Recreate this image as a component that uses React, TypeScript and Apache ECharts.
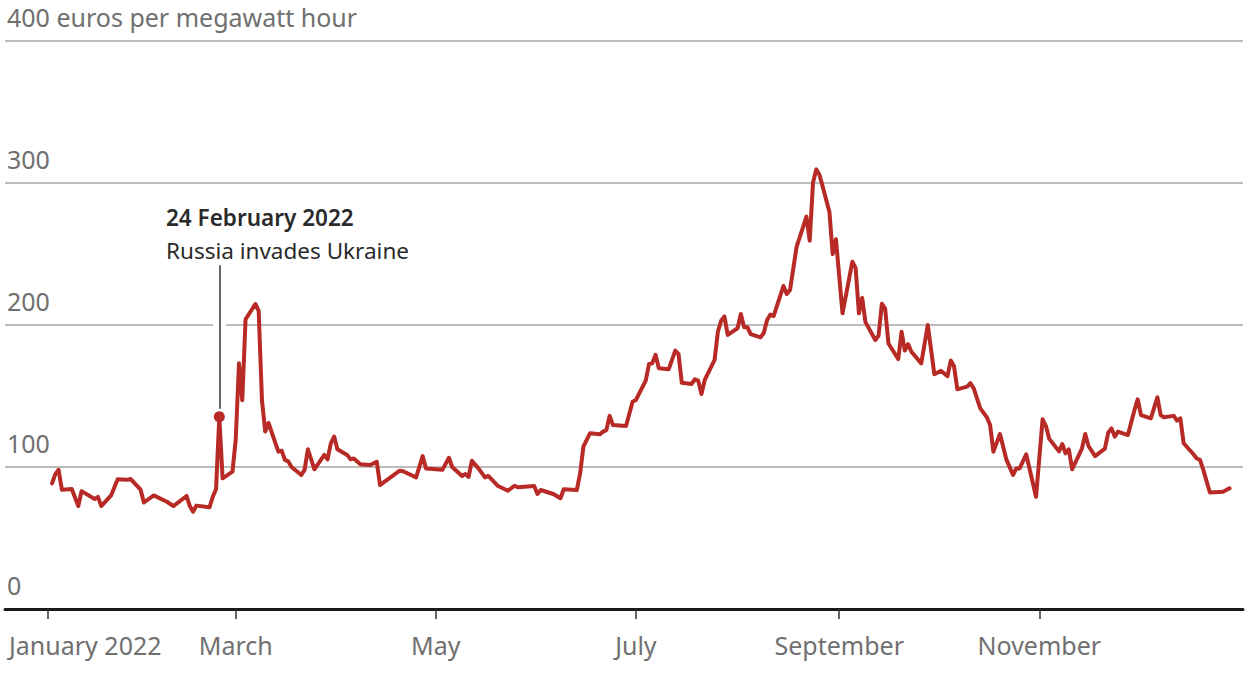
import React, { useEffect, useRef } from "react";
import * as echarts from "echarts";

const dates: string[] = [
  "2022-01-04","2022-01-05","2022-01-06","2022-01-07","2022-01-10","2022-01-12","2022-01-13","2022-01-17","2022-01-18","2022-01-19",
  "2022-01-22","2022-01-24","2022-01-27","2022-01-28","2022-01-31","2022-02-01","2022-02-04","2022-02-08","2022-02-10","2022-02-14",
  "2022-02-15","2022-02-16","2022-02-17","2022-02-21","2022-02-22","2022-02-23","2022-02-24","2022-02-25","2022-02-28","2022-03-01",
  "2022-03-02","2022-03-03","2022-03-04","2022-03-07","2022-03-08","2022-03-09","2022-03-10","2022-03-11","2022-03-14","2022-03-15",
  "2022-03-16","2022-03-17","2022-03-18","2022-03-21","2022-03-22","2022-03-23","2022-03-25","2022-03-28","2022-03-29","2022-03-30",
  "2022-03-31","2022-04-01","2022-04-04","2022-04-05","2022-04-06","2022-04-08","2022-04-11","2022-04-13","2022-04-14","2022-04-15",
  "2022-04-20","2022-04-21","2022-04-25","2022-04-27","2022-04-28","2022-05-03","2022-05-05","2022-05-06","2022-05-09","2022-05-10",
  "2022-05-11","2022-05-12","2022-05-14","2022-05-16","2022-05-17","2022-05-20","2022-05-23","2022-05-25","2022-05-26","2022-05-31",
  "2022-06-01","2022-06-02","2022-06-06","2022-06-08","2022-06-09","2022-06-13","2022-06-14","2022-06-15","2022-06-17","2022-06-20",
  "2022-06-21","2022-06-22","2022-06-23","2022-06-24","2022-06-28","2022-06-30","2022-07-01","2022-07-04","2022-07-05","2022-07-06",
  "2022-07-07","2022-07-08","2022-07-11","2022-07-13","2022-07-14","2022-07-15","2022-07-18","2022-07-19","2022-07-20","2022-07-21",
  "2022-07-22","2022-07-25","2022-07-26","2022-07-27","2022-07-28","2022-07-29","2022-08-01","2022-08-02","2022-08-03","2022-08-04",
  "2022-08-05","2022-08-08","2022-08-09","2022-08-10","2022-08-11","2022-08-12","2022-08-15","2022-08-16","2022-08-17","2022-08-19",
  "2022-08-22","2022-08-23","2022-08-24","2022-08-25","2022-08-26","2022-08-29","2022-08-30","2022-08-31","2022-09-02","2022-09-05",
  "2022-09-06","2022-09-07","2022-09-08","2022-09-09","2022-09-12","2022-09-13","2022-09-14","2022-09-15","2022-09-16","2022-09-19",
  "2022-09-20","2022-09-21","2022-09-22","2022-09-23","2022-09-26","2022-09-28","2022-09-30","2022-10-02","2022-10-04","2022-10-05",
  "2022-10-06","2022-10-07","2022-10-10","2022-10-11","2022-10-12","2022-10-14","2022-10-16","2022-10-17","2022-10-18","2022-10-20",
  "2022-10-22","2022-10-24","2022-10-25","2022-10-26","2022-10-28","2022-10-31","2022-11-02","2022-11-03","2022-11-04","2022-11-07",
  "2022-11-08","2022-11-09","2022-11-10","2022-11-11","2022-11-14","2022-11-15","2022-11-16","2022-11-18","2022-11-21","2022-11-22",
  "2022-11-23","2022-11-24","2022-11-25","2022-11-28","2022-11-30","2022-12-01","2022-12-02","2022-12-05","2022-12-07","2022-12-08",
  "2022-12-09","2022-12-12","2022-12-13","2022-12-14","2022-12-15","2022-12-18","2022-12-19","2022-12-20","2022-12-21","2022-12-23",
  "2022-12-27","2022-12-29",
];

const prices: number[] = [
  88.5, 95, 98, 84, 84.5, 72.5, 83, 77.5, 79, 72.5,
  80, 91.3, 91, 91.5, 84, 75, 80, 75.5, 72.5, 79.6,
  72.5, 68.5, 72.8, 71.6, 79, 84.3, 135.4, 92, 96.7, 119,
  173, 147, 204, 214.8, 210, 147, 125, 131, 110.8, 111.5,
  105, 104, 100, 94.4, 98, 112.5, 98.4, 108.5, 105.4, 116.7,
  121.4, 112.5, 108.5, 105.4, 106, 102, 101.4, 103.7, 87.3, 89,
  97.4, 97, 92.7, 107.7, 99, 98, 106.5, 100, 93.7, 95,
  93, 104.4, 99, 92.7, 93.7, 86.6, 83.3, 86.8, 85.7, 86.6,
  81, 83.8, 80.8, 78, 84.3, 83.8, 95.5, 114.3, 123.7, 123,
  124.9, 126, 136, 129.6, 128.9, 146, 147.2, 160.8, 172.5, 173,
  179, 169.5, 168.8, 182, 179.6, 159.4, 158.5, 161.8, 160.8, 151.4,
  161.3, 175.4, 195.3, 203, 206, 193, 197.7, 207.7, 198.5, 198.5,
  193.6, 191.3, 194.3, 203.5, 207.3, 206.3, 227.5, 221.8, 224.6, 255,
  276.3, 259.4, 300.2, 309.6, 305.6, 279.8, 250, 260.4, 208.2, 244.6,
  240, 208.2, 219, 202, 189.4, 192.5, 215, 211.5, 187, 176,
  195.3, 182, 186.5, 181.2, 173, 200, 165.3, 167.8, 164, 174.9,
  171, 154.7, 156.6, 159, 155.4, 141.3, 135, 129.6, 110.8, 123.2,
  105, 94.4, 99, 99, 109, 79, 133.6, 129, 120, 111,
  116.2, 109.6, 112.5, 98.4, 113, 123.2, 114.8, 107.7, 113, 124.2,
  127.2, 121.4, 124.9, 122.5, 140, 147.6, 136.6, 134.3, 149, 136.6,
  135, 136, 132.6, 134.3, 116.7, 109, 106, 105, 98, 82,
  82.6, 85,
];

const yTicks: number[] = [0, 100, 200, 300, 400];
const monthNames: string[] = ["January 2022", "March", "May", "July", "September", "November"];
const monthIndexes: number[] = [0, 2, 4, 6, 8, 10];

const annotationDate = "2022-02-24";
const annotationTitle = "24 February 2022";
const annotationText = "Russia invades Ukraine";

const RED = "#b82a25";
const FONT = '"Noto Sans", sans-serif';

function toTime(d: string): number {
  const [y, m, day] = d.split("-").map(Number);
  return new Date(y, m - 1, day).getTime();
}

export default function App() {
  const ref = useRef<HTMLDivElement>(null);

  useEffect(() => {
    if (!ref.current) return;
    const chart = echarts.init(ref.current, undefined, { renderer: "svg" });
    const DAY = 86400000;
    const jan1 = new Date(2022, 0, 1).getTime();
    const tickValues = monthIndexes.map((m) =>
      m === 0 ? jan1 + 1.55 * DAY : new Date(2022, m, 1).getTime()
    );
    const annIdx = dates.indexOf(annotationDate);
    const annX = toTime(annotationDate);
    const annValue = prices[annIdx];

    chart.setOption({
      animation: false,
      grid: { left: 5, right: 3, top: 41, bottom: 67, containLabel: false, outerBoundsMode: "none" },
      xAxis: {
        type: "value",
        min: jan1 - 11.34 * DAY,
        max: jan1 + 366.1 * DAY,
        axisLine: { show: true, lineStyle: { color: "#1a1a1a", width: 3 } },
        axisTick: {
          show: true,
          customValues: tickValues,
          length: 10,
          lineStyle: { color: "#333", width: 1.5 },
        },
        axisLabel: {
          show: true,
          customValues: tickValues,
          margin: 23,
          color: "#707070",
          fontSize: 25,
          fontFamily: FONT,
          showMinLabel: true,
          showMaxLabel: true,
          formatter: (v: number) => {
            const m = new Date(v).getMonth();
            const i = monthIndexes.indexOf(m);
            if (i === 0) return "{first|" + monthNames[0] + "}";
            return i >= 0 ? monthNames[i] : "";
          },
          rich: {
            first: { fontSize: 25, fontFamily: FONT, color: "#707070", padding: [0, 0, 0, 76] },
          },
        },
        splitLine: { show: false },
      },
      yAxis: {
        type: "value",
        min: 0,
        max: 400,
        interval: 100,
        axisLine: { show: false },
        axisTick: { show: false },
        splitLine: { show: true, lineStyle: { color: "#bdbdbd", width: 2 } },
        axisLabel: {
          inside: true,
          margin: 2,
          align: "left",
          verticalAlign: "bottom",
          padding: [0, 0, 12, 0],
          color: "#707070",
          fontSize: 25,
          fontFamily: FONT,
          formatter: (v: number) =>
            v === yTicks[yTicks.length - 1] ? v + " euros per megawatt hour" : String(v),
        },
      },
      series: [
        {
          type: "line",
          data: dates.map((d, i) => [toTime(d), prices[i]]),
          showSymbol: false,
          lineStyle: { color: RED, width: 4, join: "round", cap: "round" },
          itemStyle: { color: RED },
          z: 3,
          silent: true,
          markLine: {
            silent: true,
            symbol: ["none", "none"],
            label: { show: false },
            lineStyle: { color: "#ffffff", width: 13, type: "solid" },
            data: [[{ coord: [annX, 192] }, { coord: [annX, 208] }]],
          },
        },
        {
          type: "scatter",
          data: [[annX, annValue]],
          symbolSize: 11,
          itemStyle: { color: RED, opacity: 1 },
          z: 5,
          silent: true,
          markLine: {
            silent: true,
            symbol: ["none", "none"],
            label: { show: false },
            lineStyle: { color: "#333333", width: 1.5, type: "solid" },
            data: [[{ coord: [annX, 141] }, { coord: [annX, 242] }]],
          },
        },
      ],
      graphic: [
        {
          type: "text",
          left: 166,
          top: 206,
          style: { text: annotationTitle, font: '600 22.5px "Noto Sans", sans-serif', fill: "#2a2a2a" },
        },
        {
          type: "text",
          left: 166,
          top: 239,
          style: { text: annotationText, font: '22.5px "Noto Sans", sans-serif', fill: "#2a2a2a" },
        },
      ],
    });
    return () => chart.dispose();
  }, []);

  return (
    <div
      ref={ref}
      style={{ position: "fixed", left: 0, top: 0, width: 1246, height: 676, background: "#fff" }}
    />
  );
}
